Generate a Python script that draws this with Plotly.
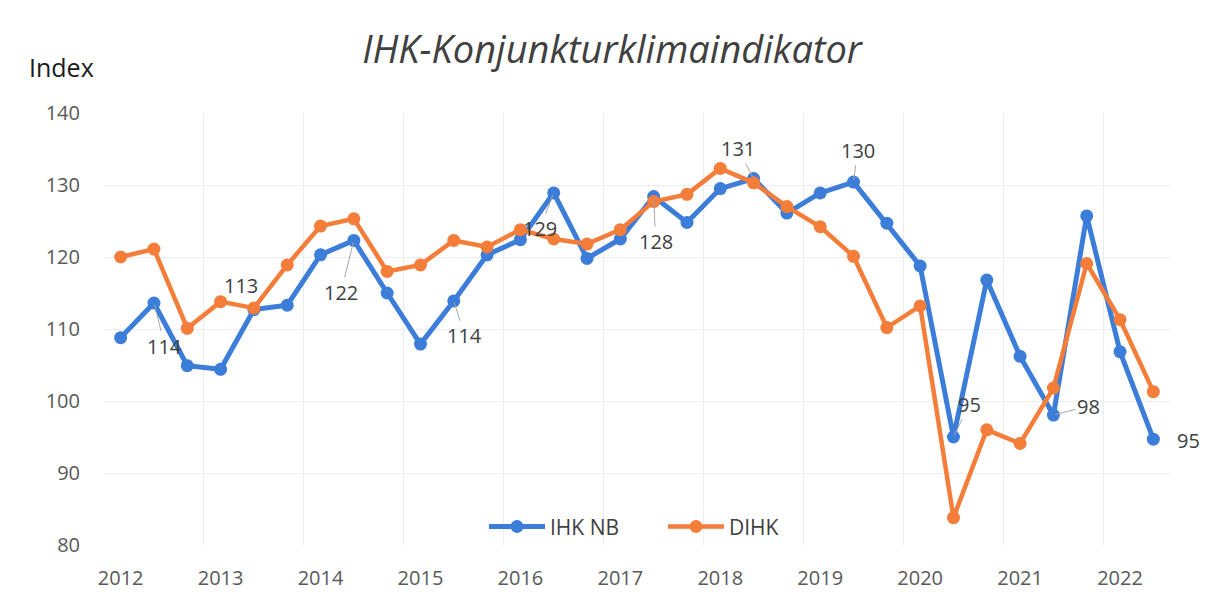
import plotly.graph_objects as go

years = ["2012", "2013", "2014", "2015", "2016", "2017", "2018", "2019", "2020", "2021", "2022"]
periods_per_year = 3

ihk_nb = [108.8, 113.6, 104.9, 104.4, 112.7, 113.3, 120.3, 122.3, 115.0, 107.9,
          113.9, 120.3, 122.4, 128.9, 119.8, 122.5, 128.4, 124.8, 129.5, 130.9,
          126.1, 128.9, 130.4, 124.7, 118.75, 95.0, 116.8, 106.2, 98.05, 125.7,
          106.85, 94.7]
dihk = [120.0, 121.1, 110.1, 113.8, 112.9, 118.9, 124.3, 125.3, 118.0, 118.9,
        122.3, 121.4, 123.8, 122.5, 121.8, 123.8, 127.7, 128.7, 132.3, 130.3,
        127.0, 124.2, 120.1, 110.2, 113.2, 83.8, 96.0, 94.1, 101.8, 119.1,
        111.3, 101.3]

# indices of labelled IHK NB points
label_idx = [1, 4, 7, 10, 13, 16, 19, 22, 25, 28, 31]

x = list(range(len(ihk_nb)))
BLUE = "#3B7DD8"
ORANGE = "#F47D3A"
FONT = "Open Sans"

fig = go.Figure()
fig.add_trace(go.Scatter(x=x, y=ihk_nb, name="IHK NB", mode="lines+markers",
                         line=dict(color=BLUE, width=5),
                         marker=dict(color=BLUE, size=13)))
fig.add_trace(go.Scatter(x=x, y=dihk, name="DIHK", mode="lines+markers",
                         line=dict(color=ORANGE, width=4.5),
                         marker=dict(color=ORANGE, size=13)))

offsets = [(11, 43), (-13, -24), (-13, 52), (11, 35), (-14, 36), (2, 45),
           (-16, -30), (4, -32), (16, -33), (35, -9), (35, 1)]
leader = [True, False, True, True, True, True, True, True, True, True, False]
for i, (ax, ay), show_leader in zip(label_idx, offsets, leader):
    fig.add_annotation(x=i, y=ihk_nb[i], text=str(round(ihk_nb[i])),
                       showarrow=True, arrowhead=0, arrowwidth=1,
                       arrowcolor="#A6A6A6" if show_leader else "rgba(0,0,0,0)",
                       ax=ax, ay=ay, standoff=2,
                       font=dict(family=FONT, size=20, color="#404040"))

fig.add_annotation(xref="paper", yref="paper", x=(53 - 96) / 1066, y=(537 - 59) / 432,
                   xanchor="center", yanchor="middle", showarrow=False,
                   text="Index", font=dict(family=FONT, size=25, color="#1a1a1a"))

tickvals = [i * periods_per_year for i in range(len(years))]

fig.update_layout(
    width=1212, height=602,
    margin=dict(l=96, r=50, t=105, b=65),
    paper_bgcolor="white", plot_bgcolor="white",
    title=dict(text="<i>IHK-Konjunkturklimaindikator</i>", x=604 / 1212, xanchor="center",
               y=1 - 42 / 602, yanchor="middle",
               font=dict(family=FONT, size=38, color="#404040")),
    showlegend=True,
    legend=dict(orientation="h", x=(486 - 96 - 10) / 1066, y=0.042,
                xanchor="left", yanchor="middle",
                font=dict(family=FONT, size=21, color="#404040"),
                bgcolor="rgba(0,0,0,0)", itemwidth=56, tracegroupgap=0,
                entrywidth=108, entrywidthmode="pixels"),
    xaxis=dict(range=[-0.5, len(x) - 0.5], tickmode="array", tickvals=tickvals,
               ticktext=years, showgrid=False, zeroline=False, showline=False,
               ticks="", ticklabelstandoff=19,
               tickfont=dict(family=FONT, size=20, color="#595959"),
               minor=dict(tickmode="linear", tick0=-0.5, dtick=3, showgrid=True,
                          gridcolor="#E9ECF1", gridwidth=1, ticks="")),
    yaxis=dict(range=[80, 140], dtick=10, showgrid=True, gridcolor="#E9ECF1",
               gridwidth=1, zeroline=False, showline=False, ticks="",
               ticklabelstandoff=23,
               tickfont=dict(family=FONT, size=20, color="#595959")),
)

fig.write_html("out.html")
